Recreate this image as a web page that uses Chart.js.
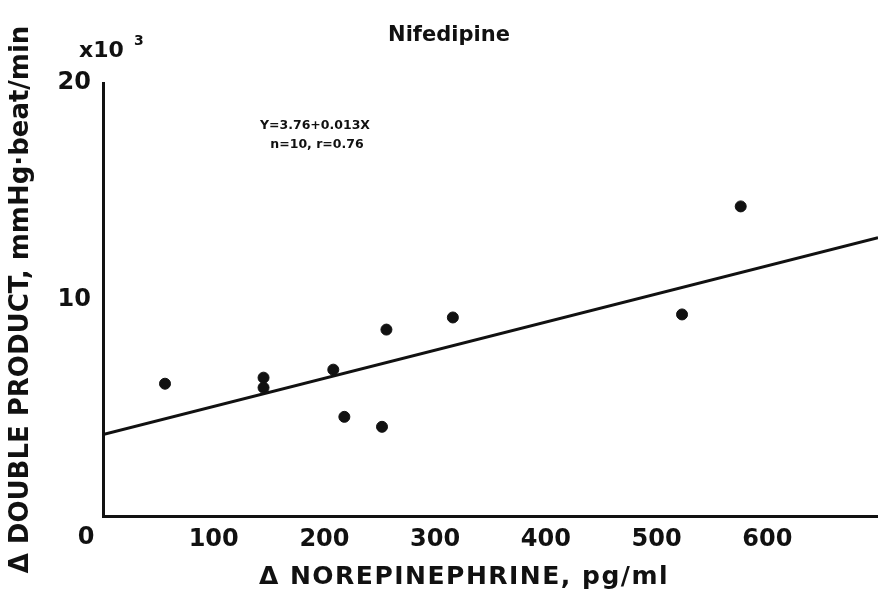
<!DOCTYPE html>
<html>
<head>
<meta charset="utf-8">
<script src="https://cdn.jsdelivr.net/npm/chart.js@4/dist/chart.umd.min.js"></script>
<style>
  html, body { margin: 0; padding: 0; background: #ffffff; }
  #wrap { width: 878px; height: 592px; }
</style>
</head>
<body>
<div id="wrap"><canvas id="c" width="878" height="592"></canvas></div>
<script>
// Data (double product in x10^3 mmHg·beat/min)
const norepinephrine = [56, 145, 145, 208, 218, 252, 256, 316, 523, 576];
const doubleProduct  = [6.11, 6.39, 5.93, 6.76, 4.58, 4.12, 8.61, 9.17, 9.31, 14.3];
// Regression line Y = 3.76 + 0.013X, endpoints at the axis limits
const fitX = [0, 700];
const fitY = [3.76, 12.86];
const xTickLabels = [100, 200, 300, 400, 500, 600];
const yTickLabels = [10, 20];

const FONT = "'DejaVu Sans', sans-serif";

const scatterPts = norepinephrine.map((x, i) => ({ x: x, y: doubleProduct[i] }));
const linePts = fitX.map((x, i) => ({ x: x, y: fitY[i] }));

const textPlugin = {
  id: 'figText',
  afterDraw(chart) {
    const ctx = chart.ctx;
    const a = chart.chartArea;
    ctx.save();
    ctx.fillStyle = '#111';
    // Title
    ctx.font = 'bold 21px ' + FONT;
    ctx.textAlign = 'center';
    ctx.textBaseline = 'middle';
    ctx.fillText('Nifedipine', 449, 36);
    // x10^3 multiplier
    ctx.textAlign = 'left';
    ctx.font = 'bold 22px ' + FONT;
    ctx.fillText('x10', 79, 51);
    ctx.font = 'bold 14px ' + FONT;
    ctx.fillText('3', 134, 41);
    // Shared origin label
    ctx.font = 'bold 24px ' + FONT;
    ctx.textAlign = 'center';
    ctx.fillText('0', a.left - 17, a.bottom + 22);
    // Regression annotation
    ctx.font = 'bold 12.5px ' + FONT;
    ctx.fillText('Y=3.76+0.013X', 315, 126);
    ctx.fillText('n=10, r=0.76', 317, 145);
    // x-axis title
    ctx.font = 'bold 25px ' + FONT;
    ctx.letterSpacing = '1.5px';
    ctx.fillText('Δ NOREPINEPHRINE, pg/ml', 464, 577);
    ctx.restore();
  }
};

new Chart(document.getElementById('c'), {
  type: 'scatter',
  data: {
    datasets: [
      {
        type: 'line',
        data: linePts,
        borderColor: '#111',
        borderWidth: 3,
        pointRadius: 0,
        fill: false,
        tension: 0
      },
      {
        type: 'scatter',
        data: scatterPts,
        backgroundColor: '#111',
        borderColor: '#111',
        pointRadius: 5.5,
        pointHoverRadius: 5.5
      }
    ]
  },
  options: {
    responsive: false,
    devicePixelRatio: 1,
    animation: false,
    layout: { autoPadding: false, padding: { top: 83, right: 0, left: 0, bottom: 0 } },
    plugins: { legend: { display: false }, tooltip: { enabled: false }, title: { display: false } },
    scales: {
      x: {
        type: 'linear',
        min: 0,
        max: 700,
        afterFit(scale) { scale.height = 76; },
        grid: { display: true, drawOnChartArea: false, drawTicks: true, tickLength: 9, color: 'rgba(0,0,0,0)' },
        border: { display: true, color: '#111', width: 3 },
        ticks: {
          stepSize: 100,
          padding: 0,
          color: '#111',
          font: { family: FONT, size: 24, weight: 'bold' },
          maxRotation: 0,
          callback: (v) => xTickLabels.includes(v) ? String(v) : ''
        },
        title: { display: false }
      },
      y: {
        type: 'linear',
        min: 0,
        max: 20,
        afterFit(scale) { scale.width = 103; },
        grid: { display: false, drawTicks: false },
        border: { display: true, color: '#111', width: 3 },
        ticks: {
          stepSize: 10,
          padding: 12,
          color: '#111',
          font: { family: FONT, size: 24, weight: 'bold' },
          callback: (v) => yTickLabels.includes(v) ? String(v) : ''
        },
        title: {
          display: true,
          text: 'Δ DOUBLE PRODUCT, mmHg·beat/min',
          color: '#111',
          font: { family: FONT, size: 26, weight: 'bold' },
          padding: { top: 6, bottom: 0 }
        }
      }
    }
  },
  plugins: [textPlugin]
});
</script>
</body>
</html>
